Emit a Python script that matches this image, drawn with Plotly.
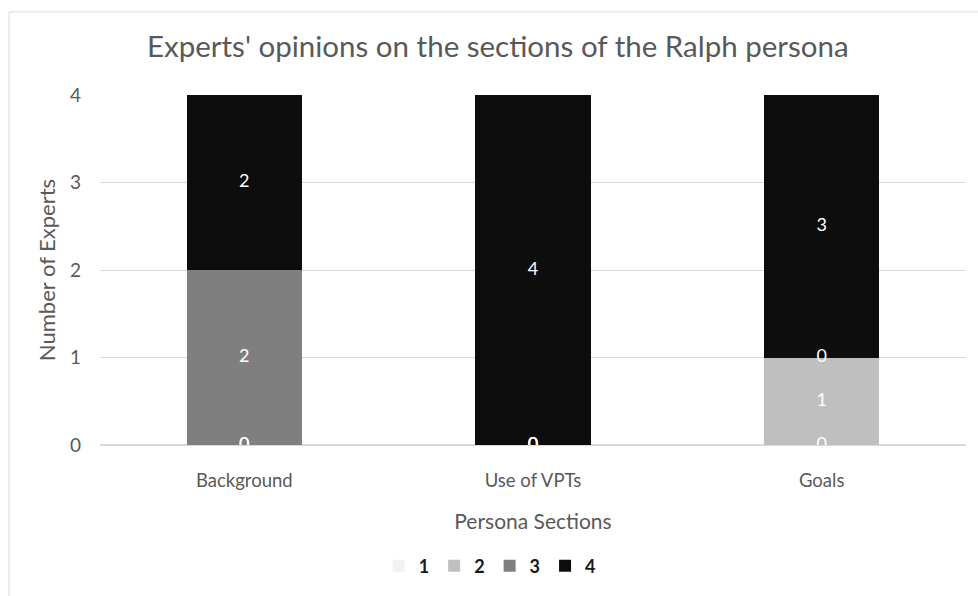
import plotly.graph_objects as go
import numpy as np

categories = ["Background", "Use of VPTs", "Goals"]
series_names = ["1", "2", "3", "4"]
s1 = [0, 0, 0]
s2 = [0, 0, 1]
s3 = [2, 0, 0]
s4 = [2, 4, 3]
colors = ["#f2f2f2", "#bfbfbf", "#7f7f7f", "#0d0d0d"]
y_ticks = [0, 1, 2, 3, 4]

FONT = "Lato, 'Open Sans', sans-serif"
series = [s1, s2, s3, s4]

fig = go.Figure()
for name, vals, col in zip(series_names, series, colors):
    fig.add_trace(go.Bar(x=categories, y=vals, name=name, marker=dict(color=col, line=dict(width=0)),
                         hoverinfo="skip"))

# data labels
base = np.zeros(len(categories))
for name, vals in zip(series_names, series):
    v = np.array(vals, dtype=float)
    fig.add_trace(go.Scatter(x=categories, y=base + v / 2, mode="text", text=[str(x) for x in vals],
                             textfont=dict(color="white", size=18, family=FONT), showlegend=False,
                             cliponaxis=True, hoverinfo="skip"))
    base = base + v

fig.update_layout(
    barmode="stack",
    bargap=0.6,
    width=978, height=596,
    margin=dict(l=100, r=12, t=95, b=143),
    paper_bgcolor="white", plot_bgcolor="white",
    font=dict(family=FONT, color="#595959", size=18),
    title=dict(text="Experts' opinions on the sections of the Ralph persona", x=0.509, xanchor="center",
               y=1 - 47 / 596, yanchor="middle", font=dict(size=29.5, color="#595959", family=FONT)),
    xaxis=dict(title=dict(text="Persona Sections", font=dict(size=21), standoff=24), showgrid=False,
               ticks="", showline=False, tickfont=dict(size=18.5), ticklabelstandoff=22),
    yaxis=dict(title=dict(text="Number of Experts", font=dict(size=22), standoff=8), range=[0, 4],
               tickvals=y_ticks, gridcolor="#d9d9d9", gridwidth=1, zeroline=True, zerolinecolor="#d9d9d9",
               ticks="", tickfont=dict(size=19), ticklabelstandoff=18),
    legend=dict(orientation="h", x=0.45, xanchor="center", y=-0.346, yanchor="middle",
                font=dict(size=18, color="#1a1a1a", family=FONT, weight="bold"),
                itemwidth=30, traceorder="normal"),
    shapes=[dict(type="rect", xref="paper", yref="paper", x0=-0.105, x1=1.03, y0=-0.5, y1=1.2374,
                 line=dict(color="#d9d9d9", width=1), fillcolor="rgba(0,0,0,0)", layer="below")],
)

fig.write_html("out.html")
